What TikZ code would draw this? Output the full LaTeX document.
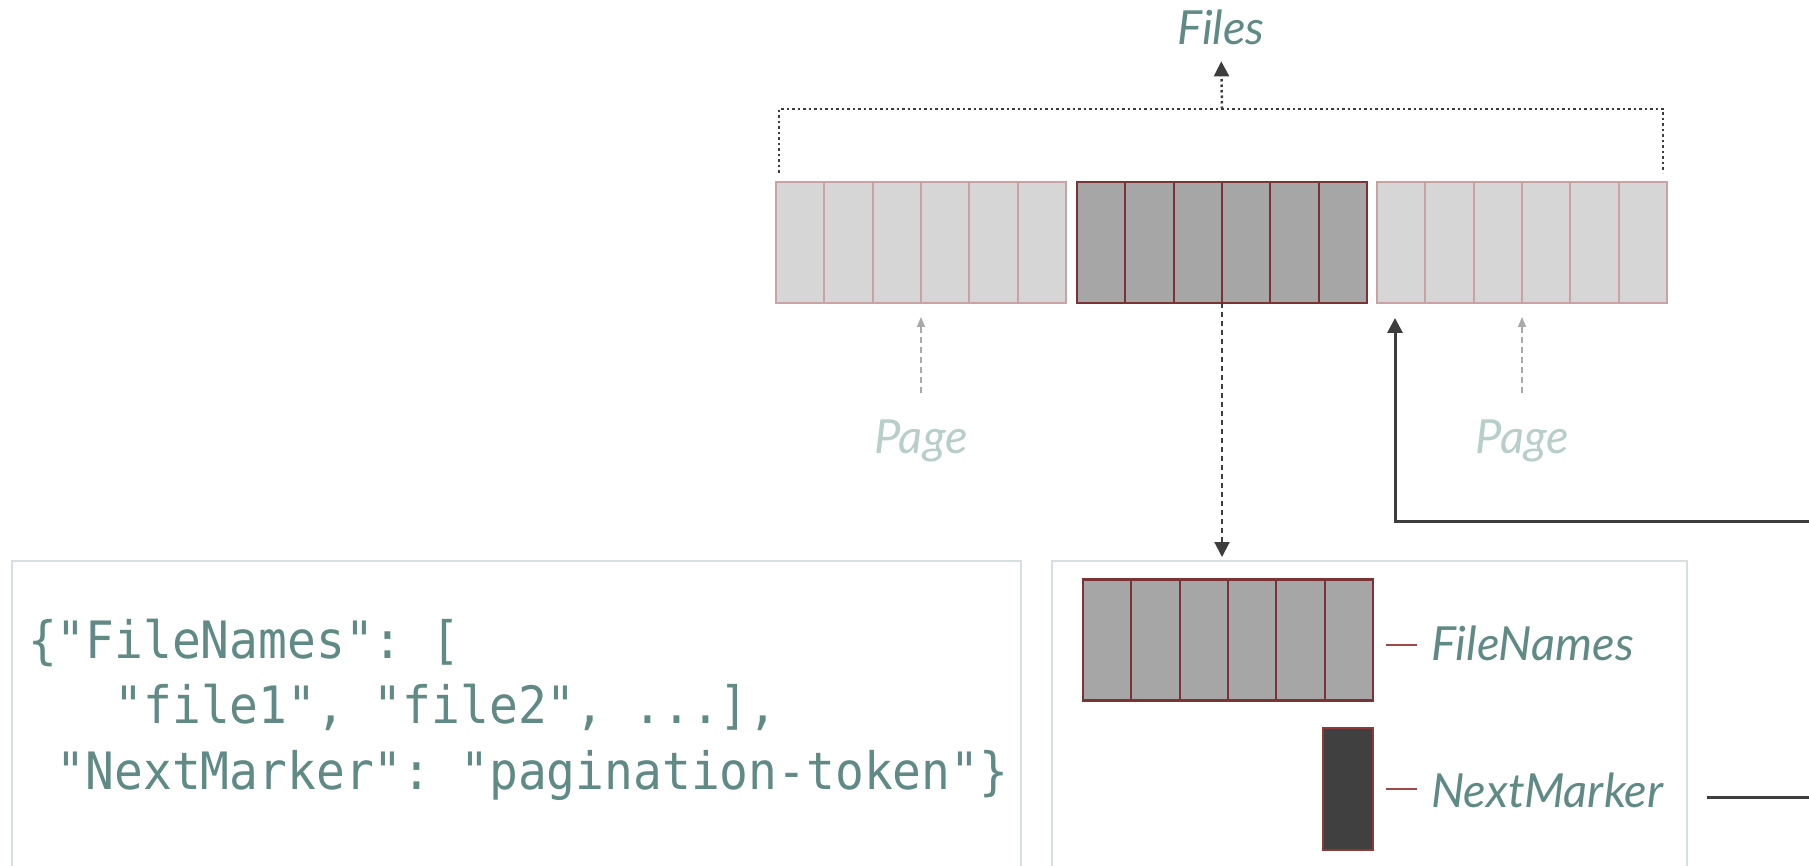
\documentclass[tikz,border=0pt]{standalone}
\usepackage{fontspec}
\setmainfont{Lato}
\setmonofont[FakeStretch=0.93]{DejaVu Sans Mono}
\usetikzlibrary{arrows.meta,calc}

\definecolor{tealtext}{HTML}{5F8A85}
\definecolor{pagetext}{HTML}{B7CECB}
\definecolor{lightfill}{HTML}{D6D6D6}
\definecolor{lightdraw}{HTML}{C9A3A3}
\definecolor{darkfill}{HTML}{A6A6A6}
\definecolor{darkdraw}{HTML}{7B3436}
\definecolor{markfill}{HTML}{404040}
\definecolor{markdraw}{HTML}{8C3B3B}
\definecolor{panedraw}{HTML}{D4E1E0}
\definecolor{arrowcol}{HTML}{3D3D3D}
\definecolor{hintcol}{HTML}{A9A9A9}
\definecolor{tickcol}{HTML}{A34848}

\tikzset{
  strip/.style={draw, line width=2.5pt, minimum width=290pt, minimum height=121pt,
    inner sep=0pt, outer sep=0pt},
  lightstrip/.style={strip, draw=lightdraw, fill=lightfill},
  darkstrip/.style={strip, draw=darkdraw, fill=darkfill},
  pane/.style={draw=panedraw, line width=2.5pt, inner sep=0pt, outer sep=0pt,
    anchor=north west, minimum height=360pt},
  lbl/.style={inner sep=0pt, outer sep=0pt, text=tealtext,
    font=\fontsize{47}{56}\selectfont\itshape},
  pagelbl/.style={lbl, text=pagetext},
  codeline/.style={inner sep=0pt, outer sep=0pt, text=tealtext, anchor=base west,
    font=\fontsize{51.5}{60}\selectfont\ttfamily},
  dotline/.style={draw=arrowcol, line width=2.5pt, dash pattern=on 2.5pt off 3pt},
  dashline/.style={draw=arrowcol, line width=2pt, dash pattern=on 5pt off 4pt},
  hintline/.style={draw=hintcol, line width=1.6pt, dash pattern=on 6pt off 4pt},
  solidline/.style={draw=arrowcol, line width=3pt},
  bigtip/.style={-{Triangle[length=15pt,width=15pt]}},
  smalltip/.style={-{Triangle[length=10pt,width=8pt]}},
  tick/.style={draw=tickcol, line width=2.5pt},
}

\begin{document}
\begin{tikzpicture}[x=1pt,y=-1pt]
\clip (0,0) rectangle (1809,866);
\fill[white] (0,0) rectangle (1809,866);

% the three pages of the listing
\node[lightstrip] (p1) at (921,242.5) {};
\node[darkstrip]  (p2) at (1222,242.5) {};
\node[lightstrip] (p3) at (1522,242.5) {};
\foreach \pg/\col in {p1/lightdraw, p2/darkdraw, p3/lightdraw}
  \foreach \i in {1,...,5}
    \draw[draw=\col, line width=2.2pt]
      ($(\pg.north west)!\i/6!(\pg.north east)$) -- ($(\pg.south west)!\i/6!(\pg.south east)$);

% bracket over all pages leading to "Files"
\node[lbl, anchor=base] (files) at (1221,45) {Files};
\coordinate (bl) at (779,173);
\coordinate (br) at (1663,173);
\coordinate (bt) at (1222,109);
\draw[dotline] (bl) |- (br |- bt) -- (br);
\draw[dotline, bigtip, shorten >=16pt] (bt) -- (files.south);

% page captions
\node[pagelbl, anchor=base] (pg1) at (921,453) {Page};
\node[pagelbl, anchor=base] (pg3) at (1522,453) {Page};
\draw[hintline, smalltip, shorten <=26pt, shorten >=14pt] (pg1.north) -- (p1.south);
\draw[hintline, smalltip, shorten <=26pt, shorten >=14pt] (pg3.north) -- (p3.south);

% lower panes
\node[pane, minimum width=1009pt] (code) at (12,561) {};
\node[pane, minimum width=635pt] (resp) at (1052,561) {};

% the current page fetched into the response
\draw[dashline, bigtip, shorten >=4pt] (p2.south) -- (p2.south |- resp.north);

% JSON response
\node[codeline] (c1) at (28,658) {\{"FileNames": [};
\node[codeline] (c2) at (28,723) {\hphantom{000}"file1", "file2", ...],};
\node[codeline] (c3) at (28,789) {\hphantom{0}"NextMarker": "pagination-token"\}};

% response contents
\node[darkstrip] (fn) at (1228,640) {};
\foreach \i in {1,...,5}
  \draw[draw=darkdraw, line width=2.2pt]
    ($(fn.north west)!\i/6!(fn.north east)$) -- ($(fn.south west)!\i/6!(fn.south east)$);
\node[draw=markdraw, fill=markfill, line width=2.5pt, minimum width=50pt,
  minimum height=122pt, inner sep=0pt, outer sep=0pt] (nm) at (1348,789) {};

\node[lbl, anchor=base west] (fnl) at (1431,660) {FileNames};
\node[lbl, anchor=base west] (nml) at (1431,807) {NextMarker};
\draw[tick] (1386,645) -- (1417,645);
\draw[tick] (1386,789) -- (1417,789);

% marker sent back to request the next page
\coordinate (nmout) at (1707,797);
\coordinate (upx) at (1395,0);
\draw[solidline, bigtip, shorten >=15pt]
  (nmout) -- (1840,797) -- (1840,521) -- (1395,521) -- (upx |- p3.south);
\end{tikzpicture}
\end{document}
